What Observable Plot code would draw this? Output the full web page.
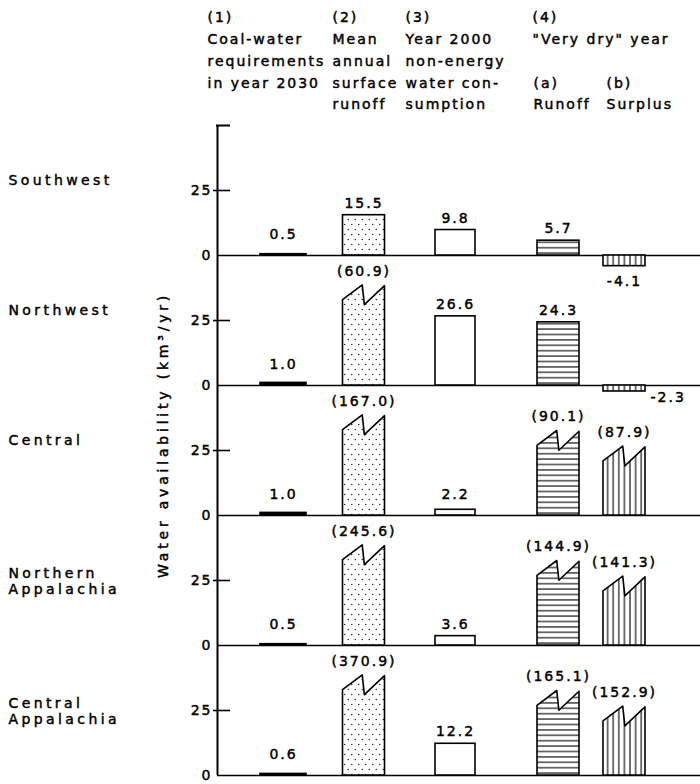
<!DOCTYPE html>
<html>
<head>
<meta charset="utf-8">
<script src="https://cdn.jsdelivr.net/npm/d3@7"></script>
<script src="https://cdn.jsdelivr.net/npm/@observablehq/plot@0.6"></script>
<style>
  html, body { margin: 0; padding: 0; background: #fff; }
  #chart svg { display: block; }
  #chart svg text { stroke: black; stroke-width: 0.45px; }
</style>
</head>
<body>
<div id="chart"></div>
<script>
// Regions (one panel each, top to bottom)
const regions = ["Southwest", "Northwest", "Central", "Northern Appalachia", "Central Appalachia"];
const regionLabels = ["Southwest", "Northwest", "Central", "Northern\nAppalachia", "Central\nAppalachia"];

// Water quantities, km³/yr, in region order
const coalWater2030 = [0.5, 1.0, 1.0, 0.5, 0.6];
const meanAnnualRunoff = [15.5, 60.9, 167.0, 245.6, 370.9];
const nonEnergyUse2000 = [9.8, 26.6, 2.2, 3.6, 12.2];
const veryDryRunoff = [5.7, 24.3, 90.1, 144.9, 165.1];
const veryDrySurplus = [-4.1, -2.3, 87.9, 141.3, 152.9];

// Axis ticks and texts
const yTicks = [0, 25];
const axisTitle = "Water availability (km³/yr)";
const header1 = ["(1)", "Coal-water", "requirements", "in year 2030"];
const header2 = ["(2)", "Mean", "annual", "surface", "runoff"];
const header3 = ["(3)", "Year 2000", "non-energy", "water con-", "sumption"];
const header4 = ["(4)", "\"Very dry\" year"];
const header4a = ["(a)", "Runoff"];
const header4b = ["(b)", "Surplus"];

// ---- layout ----
const PANEL_MAX = 50;        // km³/yr shown in each panel; larger values get a broken bar
const LABEL_FLOOR = 3.4;     // keep labels of tiny bars clear of the baseline
const FONT = 14;
const HEADER_ROW = 21.7;     // px between header lines
const MARGIN_TOP = 123;

const columns = [
  {key: "coal",       values: coalWater2030,    center: 66,    width: 46, fill: "black"},
  {key: "runoff",     values: meanAnnualRunoff, center: 146.5, width: 42, fill: "url(#dots)",     breakTop: 38.5},
  {key: "nonEnergy",  values: nonEnergyUse2000, center: 238,   width: 40, fill: "white",          breakTop: 38},
  {key: "dryRunoff",  values: veryDryRunoff,    center: 341,   width: 42, fill: "url(#hstripes)", breakTop: 32.5},
  {key: "drySurplus", values: veryDrySurplus,   center: 407,   width: 42, fill: "url(#vstripes)", breakTop: 26.5}
];
const headers = [
  {lines: header1, x: -10, row: 0},
  {lines: header2, x: 115, row: 0},
  {lines: header3, x: 188, row: 0},
  {lines: header4, x: 315, row: 0},
  {lines: header4a, x: 316, row: 3},
  {lines: header4b, x: 389, row: 3}
];
const sideLabelRegions = new Set(["Northwest"]); // negative label set beside the bar

// ---- derived tables ----
const bars = columns.flatMap(col => col.values.map((value, i) => ({
  key: col.key, region: regions[i], value,
  center: col.center, x1: col.center - col.width / 2, x2: col.center + col.width / 2,
  broken: value > PANEL_MAX, breakTop: col.breakTop
})));

// Broken bars: zig-zag top
const breaks = bars.filter(b => b.broken).flatMap(b => {
  const w = b.x2 - b.x1, P = b.breakTop, id = b.key + b.region;
  return [
    {id, key: b.key, region: b.region, x: b.x1, y: P - 5.7},
    {id, key: b.key, region: b.region, x: b.x1 + 0.47 * w, y: P},
    {id, key: b.key, region: b.region, x: b.x1 + 0.52 * w, y: P - 7.6},
    {id, key: b.key, region: b.region, x: b.x2, y: P - 0.3}
  ];
});

const fmt = v => (v < 0 ? "-" : "") + Math.abs(v).toFixed(1);
const aboveLabels = bars.filter(b => b.value >= 0).map(b => ({
  region: b.region, x: b.center,
  y: b.broken ? b.breakTop : Math.max(b.value, LABEL_FLOOR),
  text: b.broken ? `(${fmt(b.value)})` : fmt(b.value),
  broken: b.broken
}));
const belowLabels = bars.filter(b => b.value < 0 && !sideLabelRegions.has(b.region))
  .map(b => ({region: b.region, x: b.center, y: b.value, text: fmt(b.value)}));
const sideLabels = bars.filter(b => b.value < 0 && sideLabelRegions.has(b.region))
  .map(b => ({region: b.region, x: b.x2 + 5, y: b.value, text: fmt(b.value)}));

const firstBaselineTop = (row, lh) => 20 + row * HEADER_ROW - 0.71 * lh * FONT - MARGIN_TOP;

const barStyle = {stroke: "black", strokeWidth: 1.6};

const chart = Plot.plot({
  width: 700,
  height: 784,
  marginTop: MARGIN_TOP,
  marginBottom: 7,
  marginLeft: 217,
  marginRight: 0,
  style: {fontFamily: "DejaVu Sans", fontSize: FONT + "px", letterSpacing: "2px", color: "black", background: "white"},
  x: {domain: [0, 483], axis: null},
  y: {domain: [0, PANEL_MAX], axis: null},
  fy: {domain: regions, padding: 0, axis: null},
  marks: [
    Plot.ruleY([0], {stroke: "black", strokeWidth: 1.6}),
    ...columns.flatMap(col => [
      Plot.rect(bars.filter(b => b.key === col.key && !b.broken),
        {x1: "x1", x2: "x2", y1: 0, y2: "value", fy: "region", fill: col.fill, ...barStyle}),
      Plot.area(breaks.filter(p => p.key === col.key),
        {x1: "x", y1: 0, y2: "y", z: "id", fy: "region", fill: col.fill, curve: "linear", ...barStyle})
    ]),
    // y axis: spine, ticks, top cap, tick labels
    Plot.ruleX([0], {stroke: "black", strokeWidth: 2}),
    Plot.ruleY([25], {x1: -4, x2: 13, stroke: "black", strokeWidth: 1.6}),
    Plot.ruleY([regions[0]], {fy: d => d, y: () => PANEL_MAX, x1: -1, x2: 13, stroke: "black", strokeWidth: 2}),
    Plot.text(yTicks, {y: d => d, text: d => String(d), frameAnchor: "left", dx: -5, textAnchor: "end", fill: "black"}),
    // value labels
    Plot.text(aboveLabels.filter(d => !d.broken), {x: "x", y: "y", text: "text", fy: "region", dy: -12, fill: "black"}),
    Plot.text(aboveLabels.filter(d => d.broken), {x: "x", y: "y", text: "text", fy: "region", dy: -14, fill: "black"}),
    Plot.text(belowLabels, {x: "x", y: "y", text: "text", fy: "region", dy: 15, fill: "black"}),
    Plot.text(sideLabels, {x: "x", y: "y", text: "text", fy: "region", dy: 6, textAnchor: "start", fill: "black"}),
    // region names
    Plot.text(regions, {fy: d => d, text: (d, i) => regionLabels[i], y: (d, i) => regionLabels[i].includes("\n") ? 25 : 29,
      frameAnchor: "left", dx: -209, textAnchor: "start", lineHeight: 1.15, fill: "black", ariaDescription: "region-name"}),
    // axis title
    Plot.text([axisTitle], {fy: () => regions[2], text: d => d, y: () => 31, frameAnchor: "left", dx: -54,
      textAnchor: "middle", rotate: -90, fill: "black", ariaDescription: "axis-title"}),
    // column headings
    ...headers.map(h => Plot.text([h], {
      fy: () => regions[0], x: "x", text: d => d.lines.join("\n"), frameAnchor: "top",
      textAnchor: "start", lineAnchor: "top", lineHeight: HEADER_ROW / FONT,
      dy: firstBaselineTop(h.row, HEADER_ROW / FONT), fill: "black"
    }))
  ]
});

// Fill patterns for the bars
d3.select(chart).insert("defs", ":first-child").html(`
  <pattern id="dots" width="7" height="10" patternUnits="userSpaceOnUse">
    <rect width="7" height="10" fill="white"/>
    <circle cx="1.75" cy="2.5" r="0.75" fill="#222"/>
    <circle cx="5.25" cy="7.5" r="0.75" fill="#222"/>
  </pattern>
  <pattern id="hstripes" width="8" height="5.4" patternUnits="userSpaceOnUse">
    <rect width="8" height="5.4" fill="white"/>
    <line x1="0" x2="8" y1="2.7" y2="2.7" stroke="black" stroke-width="1.1"/>
  </pattern>
  <pattern id="vstripes" width="5.6" height="8" patternUnits="userSpaceOnUse">
    <rect width="5.6" height="8" fill="white"/>
    <line x1="2.8" x2="2.8" y1="0" y2="8" stroke="black" stroke-width="1.1"/>
  </pattern>`);

// Wider tracking for the region names and the axis title
d3.select(chart).selectAll('[aria-description="region-name"], [aria-description="region-name"] text').style("letter-spacing", "3.4px");
d3.select(chart).selectAll('[aria-description="axis-title"], [aria-description="axis-title"] text').style("letter-spacing", "3.8px");

document.getElementById("chart").appendChild(chart);
</script>
</body>
</html>
